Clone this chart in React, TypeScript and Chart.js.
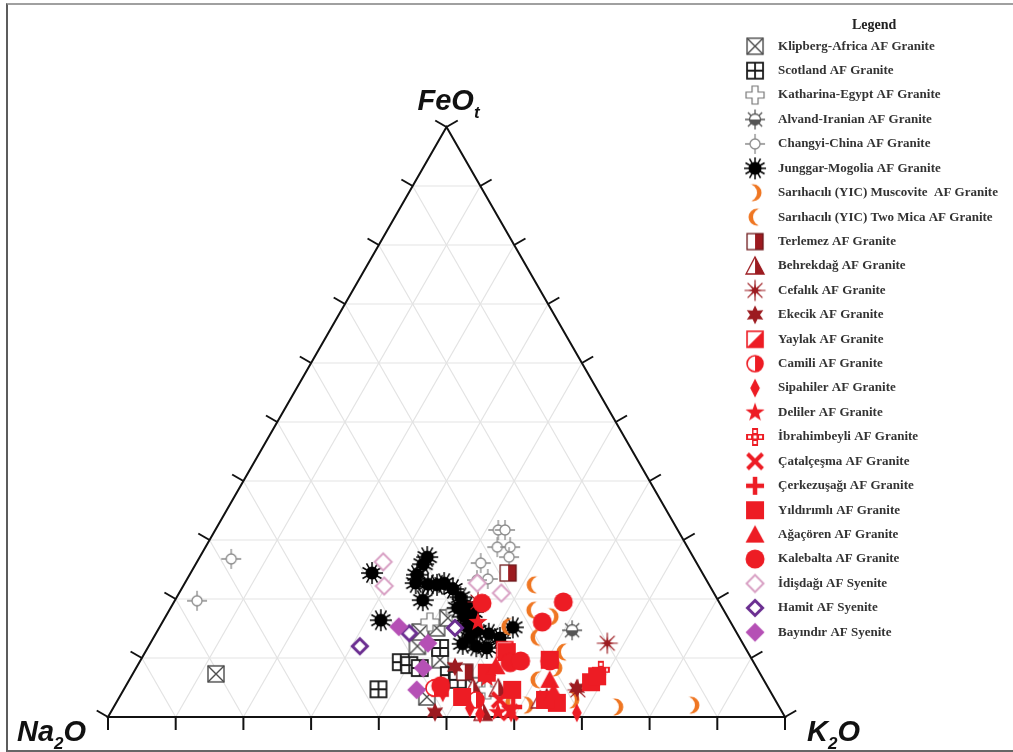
import React, { useEffect, useRef } from 'react';
import { Chart, registerables } from 'chart.js';

Chart.register(...registerables);

// Each point: [Na2O, FeOt, K2O] (%)
type P = [number, number, number];

const klipbergAfrica: P[] = [[80.4, 7.3, 12.3], [48.3, 12.0, 39.7], [43.9, 15.1, 41.0], [41.4, 16.8, 41.8], [46.1, 9.7, 44.2], [51.2, 3.4, 45.4], [43.3, 5.3, 51.4], [46.7, 14.4, 38.9]];
const scotland: P[] = [[57.7, 4.7, 37.6], [52.1, 9.3, 38.6], [51.1, 8.8, 40.1], [49.8, 8.3, 41.9], [45.1, 11.7, 43.2], [46.1, 7.1, 46.8], [45.2, 6.3, 48.5]];
const katharinaEgypt: P[] = [[44.4, 16.1, 39.5], [39.8, 17.8, 42.4], [41.6, 4.6, 53.8]];
const alvandIranian: P[] = [[24.1, 14.7, 61.2]];
const changyiChina: P[] = [[68.4, 26.8, 4.8], [77.0, 19.7, 3.3], [26.5, 31.7, 41.8], [25.5, 31.7, 42.8], [28.1, 28.8, 43.1], [26.2, 28.8, 45.0], [27.2, 27.1, 45.7], [31.9, 26.1, 42.0], [32.2, 23.4, 44.4], [33.9, 23.2, 42.9]];
const junggarMogolia: P[] = [[39.3, 27.1, 33.6], [40.5, 25.9, 33.6], [42.3, 24.1, 33.6], [43.2, 22.7, 34.1], [41.5, 22.5, 36.0], [43.6, 19.8, 36.6], [48.8, 24.4, 26.8], [51.5, 16.4, 32.1], [39.0, 22.7, 38.3], [38.2, 21.7, 40.1], [37.8, 20.3, 41.9], [37.6, 18.8, 43.6], [38.9, 17.0, 44.1], [38.2, 16.3, 45.5], [38.2, 14.6, 47.2], [36.7, 14.1, 49.2], [41.4, 12.4, 46.2], [39.6, 12.0, 48.4], [38.2, 11.7, 50.1], [35.4, 13.4, 51.2], [32.6, 15.2, 52.2], [37.2, 17.8, 45.0], [39.3, 15.3, 45.4], [40.2, 22.4, 37.4], [39.8, 13.5, 46.7], [39.1, 18.5, 42.4]];
const sarihaciliMuscovite: P[] = [[24.0, 1.7, 74.3], [12.6, 2.0, 85.4], [25.9, 17.0, 57.1], [29.9, 2.9, 67.2], [37.1, 2.0, 60.9], [29.7, 8.3, 62.0]];
const sarihaciliTwoMica: P[] = [[26.0, 22.4, 51.6], [28.2, 18.1, 53.7], [29.9, 13.5, 56.6], [27.3, 11.0, 61.7], [33.5, 6.3, 60.2], [33.3, 15.3, 51.4], [39.1, 2.5, 58.4]];
const terlemez: P[] = [[28.7, 24.4, 46.9], [43.5, 7.6, 48.9]];
const behrekdag: P[] = [[43.6, 4.9, 51.5], [39.9, 4.9, 55.2], [34.7, 2.9, 62.4], [44.2, 0.8, 55.0]];
const cefalik: P[] = [[20.0, 12.5, 67.5], [35.6, 19.5, 44.9], [28.3, 4.6, 67.1]];
const ekecik: P[] = [[44.5, 8.5, 47.0], [28.3, 4.9, 66.8], [33.5, 3.4, 63.1], [51.3, 0.8, 47.9]];
const yaylak: P[] = [[48.5, 4.9, 46.6], [35.7, 11.4, 52.9]];
const camili: P[] = [[49.4, 4.9, 45.7], [44.2, 2.9, 52.9]];
const sipahiler: P[] = [[45.8, 1.5, 52.7], [44.8, 0.5, 54.7], [40.1, 0.7, 59.2], [30.4, 0.7, 68.9], [48.5, 4.1, 47.4]];
const deliler: P[] = [[37.3, 16.1, 46.6], [40.7, 6.6, 52.7], [42.0, 0.8, 57.2]];
const ibrahimbeyli: P[] = [[23.2, 8.0, 68.8]];
const catalcesma: P[] = [[40.7, 2.9, 56.4], [40.2, 0.8, 59.0]];
const cerkezusagi: P[] = [[39.3, 1.7, 59.0]];
const yildirimli: P[] = [[46.0, 3.4, 50.6], [35.6, 11.0, 53.4], [38.0, 4.6, 57.4], [29.9, 9.7, 60.4], [32.5, 2.4, 65.1], [25.7, 5.9, 68.4], [40.3, 7.5, 52.2], [34.0, 2.9, 63.1], [24.3, 6.9, 68.8]];
const agacoren: P[] = [[31.6, 6.3, 62.1], [38.4, 8.6, 53.0], [32.1, 4.2, 63.7]];
const kalebalta: P[] = [[35.1, 19.3, 45.6], [23.0, 19.5, 57.5], [27.8, 16.1, 56.1], [36.0, 9.2, 54.8], [34.3, 9.5, 56.2], [30.0, 9.5, 60.5], [48.2, 5.3, 46.5]];
const idisdagi: P[] = [[46.2, 26.3, 27.5], [48.1, 22.2, 29.7], [34.1, 22.7, 43.2], [31.4, 21.0, 47.6]];
const hamit: P[] = [[56.8, 12.0, 31.2], [48.4, 14.2, 37.4], [41.2, 15.1, 43.7]];
const bayindir: P[] = [[49.4, 15.3, 35.3], [46.5, 12.5, 41.0], [49.3, 8.3, 42.4], [52.1, 4.6, 43.3]];

const seriesLabels = [
  'Klipberg-Africa AF Granite', 'Scotland AF Granite', 'Katharina-Egypt AF Granite', 'Alvand-Iranian AF Granite',
  'Changyi-China AF Granite', 'Junggar-Mogolia AF Granite', 'Sarıhacılı (YIC) Muscovite  AF Granite',
  'Sarıhacılı (YIC) Two Mica AF Granite', 'Terlemez AF Granite', 'Behrekdağ AF Granite', 'Cefalık AF Granite',
  'Ekecik AF Granite', 'Yaylak AF Granite', 'Camili AF Granite', 'Sipahiler AF Granite', 'Deliler AF Granite',
  'İbrahimbeyli AF Granite', 'Çatalçeşma AF Granite', 'Çerkezuşağı AF Granite', 'Yıldırımlı AF Granite',
  'Ağaçören AF Granite', 'Kalebalta AF Granite', 'İdişdağı AF Syenite', 'Hamit AF Syenite', 'Bayındır AF Syenite',
];
const seriesData: P[][] = [
  klipbergAfrica, scotland, katharinaEgypt, alvandIranian, changyiChina, junggarMogolia, sarihaciliMuscovite,
  sarihaciliTwoMica, terlemez, behrekdag, cefalik, ekecik, yaylak, camili, sipahiler, deliler, ibrahimbeyli,
  catalcesma, cerkezusagi, yildirimli, agacoren, kalebalta, idisdagi, hamit, bayindir,
];
const seriesSymbols = [
  'klipberg', 'scotland', 'katharina', 'alvand', 'changyi', 'junggar', 'muscovite', 'twomica', 'terlemez',
  'behrekdag', 'cefalik', 'ekecik', 'yaylak', 'camili', 'sipahiler', 'deliler', 'ibrahimbeyli', 'catalcesma',
  'cerkezusagi', 'yildirimli', 'agacoren', 'kalebalta', 'idisdagi', 'hamit', 'bayindir',
];
const gridSteps = [10, 20, 30, 40, 50, 60, 70, 80, 90];
const tickSteps = [0, 10, 20, 30, 40, 50, 60, 70, 80, 90, 100];

const SQ = Math.sqrt(3) / 2;
const RED = '#ED1C24';
const DRED = '#9C1B20';
const ORANGE = '#EF7622';

function toXY(p: P) {
  const s = p[0] + p[1] + p[2];
  const fe = p[1] / s;
  const k = p[2] / s;
  return { x: k + fe / 2, y: fe * SQ };
}

function poly(g: CanvasRenderingContext2D, pts: number[][]) {
  g.beginPath();
  pts.forEach((q, i) => (i ? g.lineTo(q[0], q[1]) : g.moveTo(q[0], q[1])));
  g.closePath();
}

function star(g: CanvasRenderingContext2D, c: number, n: number, ro: number, ri: number) {
  const pts: number[][] = [];
  for (let i = 0; i < n * 2; i++) {
    const a = -Math.PI / 2 + (i * Math.PI) / n;
    const r = i % 2 ? ri : ro;
    pts.push([c + r * Math.cos(a), c + r * Math.sin(a)]);
  }
  poly(g, pts);
}

function makeSymbol(kind: string): HTMLCanvasElement {
  const size = 26;
  const cv = document.createElement('canvas');
  cv.width = size;
  cv.height = size;
  const g = cv.getContext('2d') as CanvasRenderingContext2D;
  const c = size / 2;
  const diamond = (r: number, w: number) => poly(g, [[c, c - r], [c + w, c], [c, c + r], [c - w, c]]);
  switch (kind) {
    case 'klipberg':
      g.fillStyle = '#fff'; g.fillRect(c - 8, c - 8, 16, 16);
      g.strokeStyle = '#4a4a4a'; g.lineWidth = 1.4; g.strokeRect(c - 8, c - 8, 16, 16);
      g.beginPath(); g.moveTo(c - 8, c - 8); g.lineTo(c + 8, c + 8); g.moveTo(c + 8, c - 8); g.lineTo(c - 8, c + 8); g.stroke();
      break;
    case 'scotland':
      g.fillStyle = '#fff'; g.fillRect(c - 8, c - 8, 16, 16);
      g.strokeStyle = '#1a1a1a'; g.lineWidth = 1.8; g.strokeRect(c - 8, c - 8, 16, 16);
      g.beginPath(); g.moveTo(c, c - 8); g.lineTo(c, c + 8); g.moveTo(c - 8, c); g.lineTo(c + 8, c); g.stroke();
      break;
    case 'katharina': {
      const a = 3, b = 9;
      poly(g, [[c - a, c - b], [c + a, c - b], [c + a, c - a], [c + b, c - a], [c + b, c + a], [c + a, c + a], [c + a, c + b], [c - a, c + b], [c - a, c + a], [c - b, c + a], [c - b, c - a], [c - a, c - a]]);
      g.fillStyle = '#fff'; g.fill(); g.strokeStyle = '#777'; g.lineWidth = 1.2; g.stroke();
      break;
    }
    case 'alvand':
      g.strokeStyle = '#555'; g.lineWidth = 1.3;
      g.beginPath();
      for (let i = 0; i < 8; i++) {
        const a = (i * Math.PI) / 4;
        g.moveTo(c + 5 * Math.cos(a), c + 5 * Math.sin(a)); g.lineTo(c + 10 * Math.cos(a), c + 10 * Math.sin(a));
      }
      g.stroke();
      g.beginPath(); g.arc(c, c, 5.5, 0, Math.PI * 2); g.fillStyle = '#fff'; g.fill();
      g.beginPath(); g.arc(c, c, 5.5, 0, Math.PI); g.closePath(); g.fillStyle = '#555'; g.fill();
      g.beginPath(); g.arc(c, c, 5.5, 0, Math.PI * 2); g.stroke();
      break;
    case 'changyi':
      g.strokeStyle = '#8a8a8a'; g.lineWidth = 1.3;
      g.beginPath(); g.moveTo(c, c - 10); g.lineTo(c, c - 5); g.moveTo(c, c + 5); g.lineTo(c, c + 10);
      g.moveTo(c - 10, c); g.lineTo(c - 5, c); g.moveTo(c + 5, c); g.lineTo(c + 10, c); g.stroke();
      g.beginPath(); g.arc(c, c, 5, 0, Math.PI * 2); g.fillStyle = '#fff'; g.fill(); g.stroke();
      break;
    case 'junggar':
      g.strokeStyle = '#000'; g.lineWidth = 1.5;
      g.beginPath();
      for (let i = 0; i < 12; i++) {
        const a = (i * Math.PI) / 6;
        g.moveTo(c, c); g.lineTo(c + 11 * Math.cos(a), c + 11 * Math.sin(a));
      }
      g.stroke();
      g.beginPath(); g.arc(c, c, 6.5, 0, Math.PI * 2); g.fillStyle = '#000'; g.fill();
      break;
    case 'muscovite':
    case 'twomica': {
      const dir = kind === 'muscovite' ? 1 : -1;
      g.fillStyle = ORANGE;
      g.beginPath(); g.arc(c - 2 * dir, c, 8.5, 0, Math.PI * 2); g.fill();
      g.globalCompositeOperation = 'destination-out';
      g.beginPath(); g.arc(c - 7 * dir, c, 9, 0, Math.PI * 2); g.fill();
      g.globalCompositeOperation = 'source-over';
      break;
    }
    case 'terlemez':
      g.fillStyle = '#fff'; g.fillRect(c - 8, c - 8, 16, 16);
      g.fillStyle = DRED; g.fillRect(c, c - 8, 8, 16);
      g.strokeStyle = '#6e1a1c'; g.lineWidth = 1.3; g.strokeRect(c - 8, c - 8, 16, 16);
      break;
    case 'behrekdag':
      poly(g, [[c, c - 9], [c + 9, c + 8], [c - 9, c + 8]]); g.fillStyle = '#fff'; g.fill();
      poly(g, [[c, c - 9], [c + 9, c + 8], [c, c + 8]]); g.fillStyle = DRED; g.fill();
      poly(g, [[c, c - 9], [c + 9, c + 8], [c - 9, c + 8]]); g.strokeStyle = DRED; g.lineWidth = 1.3; g.stroke();
      break;
    case 'cefalik':
      g.strokeStyle = DRED; g.lineWidth = 1.2;
      g.beginPath();
      for (let i = 0; i < 8; i++) {
        const a = (i * Math.PI) / 4;
        g.moveTo(c, c); g.lineTo(c + 10.5 * Math.cos(a), c + 10.5 * Math.sin(a));
      }
      g.stroke();
      star(g, c, 8, 7, 2.8); g.fillStyle = DRED; g.fill();
      break;
    case 'ekecik':
      star(g, c, 6, 9.5, 5); g.fillStyle = DRED; g.fill();
      break;
    case 'yaylak':
      g.fillStyle = '#fff'; g.fillRect(c - 8, c - 8, 16, 16);
      poly(g, [[c + 8, c - 8], [c + 8, c + 8], [c - 8, c + 8]]); g.fillStyle = RED; g.fill();
      g.strokeStyle = RED; g.lineWidth = 1.6; g.strokeRect(c - 8, c - 8, 16, 16);
      break;
    case 'camili':
      g.beginPath(); g.arc(c, c, 8, 0, Math.PI * 2); g.fillStyle = '#fff'; g.fill();
      g.beginPath(); g.arc(c, c, 8, -Math.PI / 2, Math.PI / 2); g.closePath(); g.fillStyle = RED; g.fill();
      g.beginPath(); g.arc(c, c, 8, 0, Math.PI * 2); g.strokeStyle = RED; g.lineWidth = 1.6; g.stroke();
      break;
    case 'sipahiler':
      diamond(9.5, 4.8); g.fillStyle = RED; g.fill();
      break;
    case 'deliler':
      star(g, c, 5, 10, 4); g.fillStyle = RED; g.fill();
      break;
    case 'ibrahimbeyli': {
      const u = 6;
      g.fillStyle = RED;
      g.fillRect(c - u * 1.5, c - u / 2, u * 3, u);
      g.fillRect(c - u / 2, c - u * 1.5, u, u * 3);
      g.fillStyle = '#fff';
      g.fillRect(c - 1.5, c - 1.5, 3, 3);
      g.fillRect(c - 7, c - 1.5, 3, 3);
      g.fillRect(c + 4, c - 1.5, 3, 3);
      g.fillRect(c - 1.5, c - 7, 3, 3);
      g.fillRect(c - 1.5, c + 4, 3, 3);
      break;
    }
    case 'catalcesma':
      g.strokeStyle = RED; g.lineWidth = 4;
      g.beginPath(); g.moveTo(c - 7.5, c - 7.5); g.lineTo(c + 7.5, c + 7.5); g.moveTo(c + 7.5, c - 7.5); g.lineTo(c - 7.5, c + 7.5); g.stroke();
      break;
    case 'cerkezusagi':
      g.strokeStyle = RED; g.lineWidth = 4.5;
      g.beginPath(); g.moveTo(c, c - 9); g.lineTo(c, c + 9); g.moveTo(c - 9, c); g.lineTo(c + 9, c); g.stroke();
      break;
    case 'yildirimli':
      g.fillStyle = RED; g.fillRect(c - 9, c - 9, 18, 18);
      break;
    case 'agacoren':
      poly(g, [[c, c - 9.5], [c + 9.5, c + 8], [c - 9.5, c + 8]]); g.fillStyle = RED; g.fill();
      break;
    case 'kalebalta':
      g.beginPath(); g.arc(c, c, 9.5, 0, Math.PI * 2); g.fillStyle = RED; g.fill();
      break;
    case 'idisdagi':
      diamond(8.5, 8.5); g.fillStyle = '#fff'; g.fill(); g.strokeStyle = '#D9A2C5'; g.lineWidth = 2; g.stroke();
      break;
    case 'hamit':
      diamond(7.5, 7.5); g.fillStyle = '#fff'; g.fill(); g.strokeStyle = '#6A2D90'; g.lineWidth = 3; g.stroke();
      break;
    case 'bayindir':
      diamond(9.5, 9.5); g.fillStyle = '#B550B5'; g.fill();
      break;
  }
  return cv;
}

// layout of the drawing (pixel positions of triangle corners inside the 1013x752 canvas)
const W = 1013;
const H = 752;
const LEFT_PX = 108;
const RIGHT_PX = 785;
const BASE_PX = 717;
const APEX_PX = 127;
const pxPerX = RIGHT_PX - LEFT_PX;
const pxPerY = (BASE_PX - APEX_PX) / SQ;
const X_MIN = -LEFT_PX / pxPerX;
const X_MAX = X_MIN + W / pxPerX;
const Y_MIN = -(H - BASE_PX) / pxPerY;
const Y_MAX = Y_MIN + H / pxPerY;

const ternaryPlugin = {
  id: 'ternaryFrame',
  afterInit(chart: any) {
    const lg = chart.legend;
    if (lg) {
      const fit = lg.fit.bind(lg);
      lg.fit = () => { fit(); lg.width = 0; };
    }
  },
  afterLayout(chart: any) {
    const lg = chart.legend;
    if (lg) {
      lg.left = 727.1;
      lg.width = 294;
      lg.right = lg.left + lg.width;
    }
  },
  beforeDatasetsDraw(chart: any) {
    const { ctx } = chart;
    const xs = chart.scales.x;
    const ys = chart.scales.y;
    const P = (fe: number, k: number) => [xs.getPixelForValue(k + fe / 2), ys.getPixelForValue(fe * SQ)];
    const line = (a: number[], b: number[]) => { ctx.beginPath(); ctx.moveTo(a[0], a[1]); ctx.lineTo(b[0], b[1]); ctx.stroke(); };
    ctx.save();
    ctx.strokeStyle = '#e3e3e3';
    ctx.lineWidth = 1.2;
    for (const v of gridSteps) {
      const f = v / 100;
      line(P(f, 0), P(f, 1 - f));
      line(P(0, f), P(1 - f, f));
      line(P(0, 1 - f), P(1 - f, 0));
    }
    ctx.strokeStyle = '#111';
    ctx.lineWidth = 2;
    ctx.lineJoin = 'miter';
    const a = P(0, 0), b = P(0, 1), t = P(1, 0);
    ctx.beginPath(); ctx.moveTo(a[0], a[1]); ctx.lineTo(b[0], b[1]); ctx.lineTo(t[0], t[1]); ctx.closePath(); ctx.stroke();
    const L = 13;
    for (const v of tickSteps) {
      const f = v / 100;
      const pb = P(0, f);
      line(pb, [pb[0], pb[1] + L]);
      const pl = P(f, 0);
      line(pl, [pl[0] - L * SQ, pl[1] - L / 2]);
      const pr = P(f, 1 - f);
      line(pr, [pr[0] + L * SQ, pr[1] - L / 2]);
    }
    ctx.restore();
  },
  afterDraw(chart: any) {
    const { ctx } = chart;
    const xs = chart.scales.x;
    const ys = chart.scales.y;
    const na = [xs.getPixelForValue(0), ys.getPixelForValue(0)];
    const k = [xs.getPixelForValue(1), ys.getPixelForValue(0)];
    const fe = [xs.getPixelForValue(0.5), ys.getPixelForValue(SQ)];
    const big = 'italic bold 29px "Liberation Sans", Arial, sans-serif';
    const small = 'italic bold 17px "Liberation Sans", Arial, sans-serif';
    const draw = (parts: [string, boolean][], x: number, y: number) => {
      ctx.save();
      ctx.fillStyle = '#111';
      ctx.textBaseline = 'alphabetic';
      ctx.textAlign = 'left';
      let cx = x;
      for (const [txt, sub] of parts) {
        ctx.font = sub ? small : big;
        ctx.fillText(txt, cx, sub ? y + 8 : y);
        cx += ctx.measureText(txt).width;
      }
      ctx.restore();
    };
    draw([['Na', false], ['2', true], ['O', false]], na[0] - 91, na[1] + 24);
    draw([['K', false], ['2', true], ['O', false]], k[0] + 22, k[1] + 24);
    draw([['FeO', false], ['t', true]], fe[0] - 29, fe[1] - 17);
  },
};

export default function App() {
  const ref = useRef<HTMLCanvasElement | null>(null);
  useEffect(() => {
    if (!ref.current) return;
    const n = seriesData.length;
    const datasets = seriesData.map((pts, i) => ({
      label: seriesLabels[i],
      data: pts.map(toXY),
      pointStyle: makeSymbol(seriesSymbols[i]),
      pointRadius: 9,
      order: n - i,
      clip: false,
    }));
    const chart = new Chart(ref.current, {
      type: 'scatter',
      data: { datasets } as any,
      options: {
        animation: false,
        responsive: false,
        devicePixelRatio: 1,
        events: [],
        layout: { padding: 0, autoPadding: false },
        scales: {
          x: { type: 'linear', display: false, min: X_MIN, max: X_MAX },
          y: { type: 'linear', display: false, min: Y_MIN, max: Y_MAX },
        },
        plugins: {
          tooltip: { enabled: false },
          legend: {
            display: true,
            position: 'right',
            align: 'start',
            labels: {
              usePointStyle: true,
              pointStyleWidth: 33,
              padding: 11.42,
              color: '#333',
              font: { family: '"Liberation Serif", serif', size: 13, weight: 'bold' },
              sort: (a: any, b: any) => a.datasetIndex - b.datasetIndex,
            },
            title: {
              display: true,
              text: 'Legend',
              color: '#222',
              font: { family: '"Liberation Serif", serif', size: 14, weight: 'bold', lineHeight: 0.7 },
              padding: { top: 18, bottom: 0.5 },
            },
          },
        },
      } as any,
      plugins: [ternaryPlugin],
    });
    return () => chart.destroy();
  }, []);
  return (
    <div style={{ position: 'absolute', left: 0, top: 0, width: W, height: H, background: '#fff', overflow: 'hidden' }}>
      <canvas ref={ref} width={W} height={H} style={{ display: 'block', width: W, height: H }} />
      <div
        style={{
          position: 'absolute', left: 6, top: 3, width: W - 6, height: 749, boxSizing: 'border-box',
          borderLeft: '2px solid #5c5c5c', borderTop: '2px solid #a0a0a0', borderBottom: '2px solid #666',
          pointerEvents: 'none',
        }}
      />
    </div>
  );
}
